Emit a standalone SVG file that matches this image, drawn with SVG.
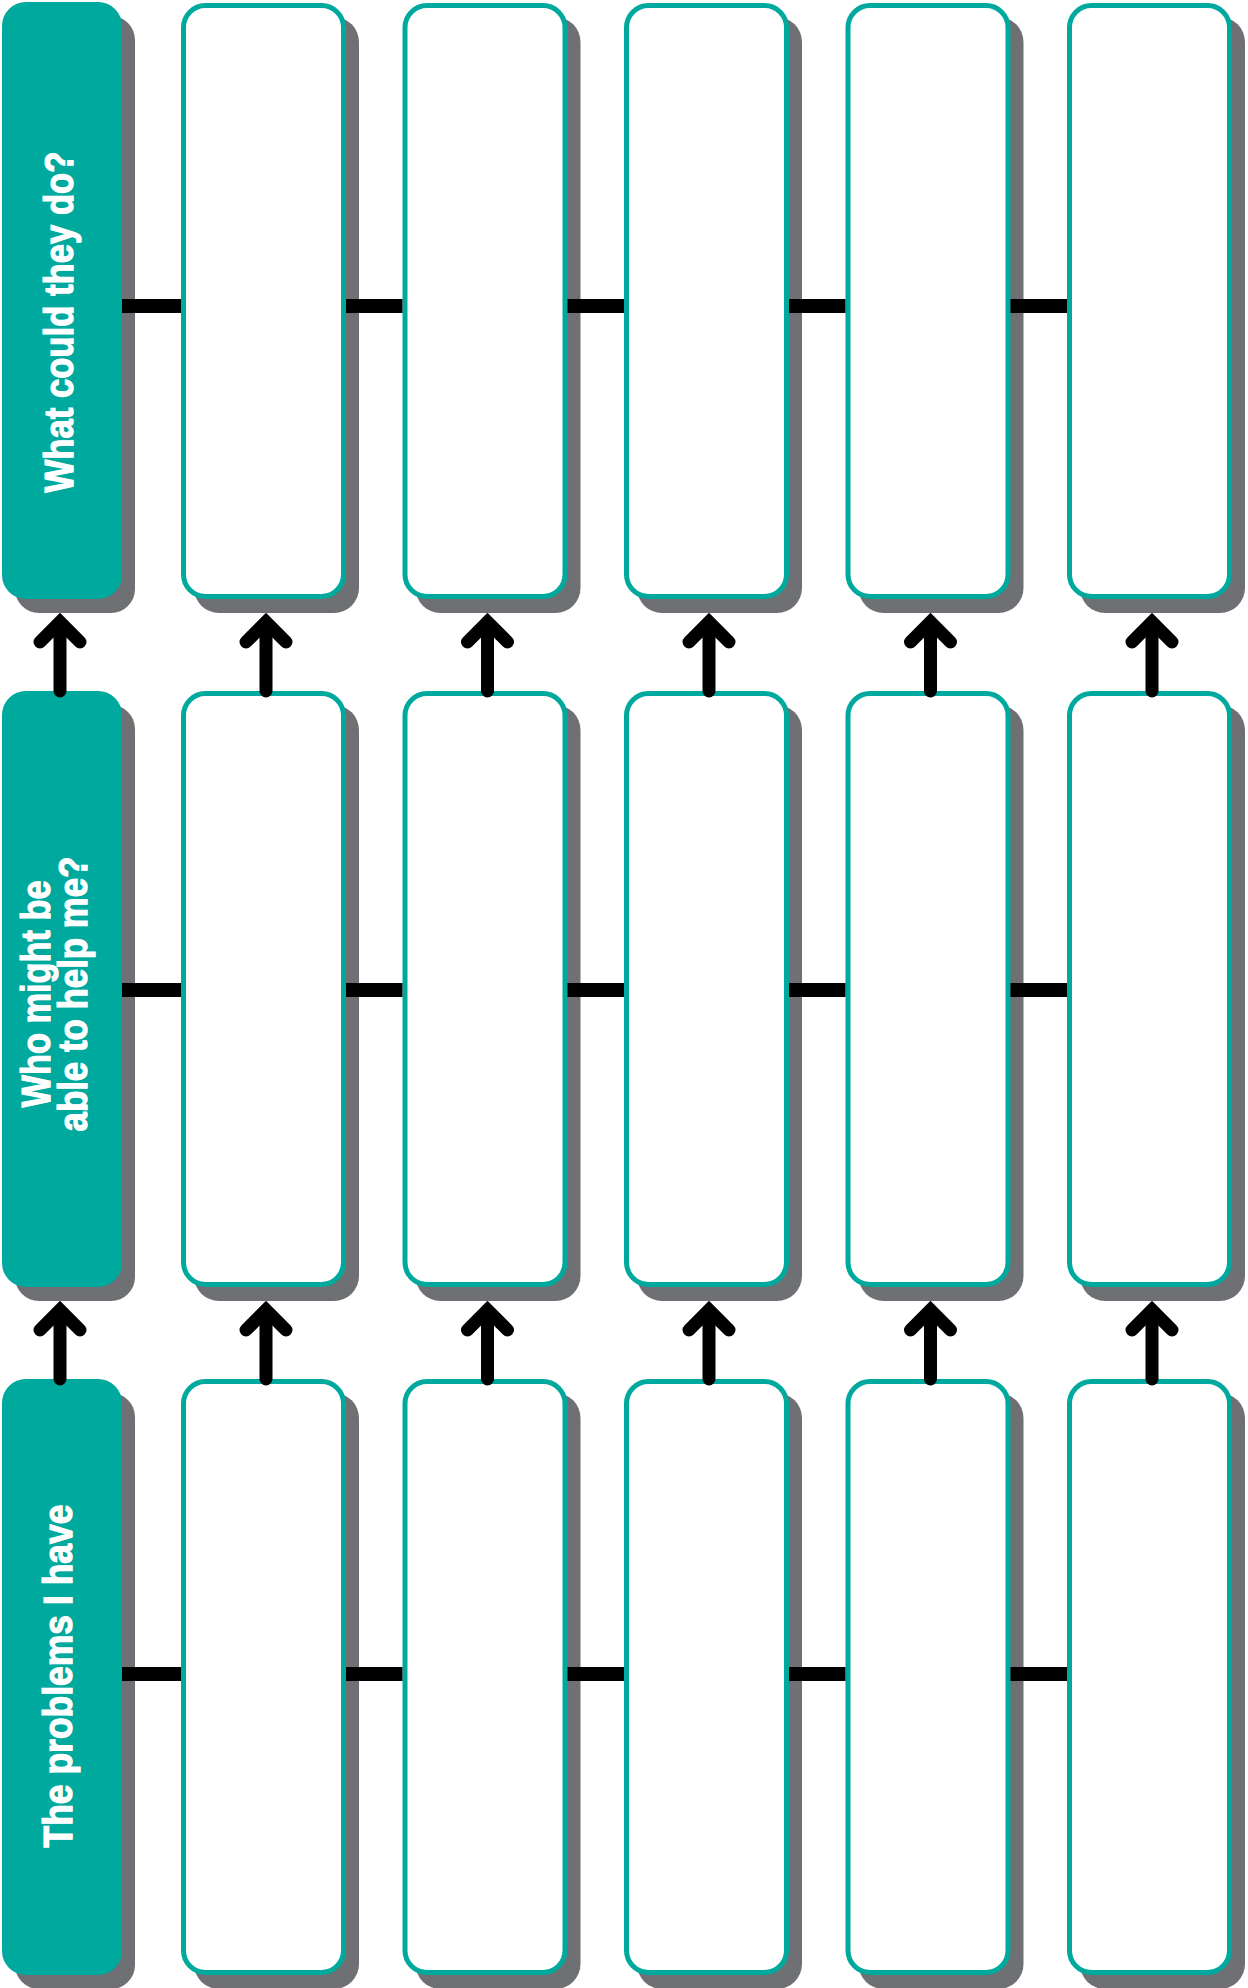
<svg xmlns="http://www.w3.org/2000/svg" width="1248" height="1988" viewBox="0 0 1248 1988">
<style>
.sh{fill:#6f7073}
.lab{fill:#00a99d}
.box{fill:#ffffff;stroke:#00a99d;stroke-width:5}
.t{fill:#ffffff;stroke:#ffffff;stroke-width:1.2;font-family:"Liberation Sans",Arial,sans-serif;font-weight:bold;font-size:40px;text-anchor:middle}
.h{stroke:#000;stroke-width:14;fill:none}
.v{stroke:#000;stroke-width:13;fill:none;stroke-linecap:round;stroke-linejoin:miter}
</style>
<rect width="1248" height="1988" fill="#ffffff"/>
<!-- Row 1 -->
<g id="label-row1"><rect class="sh" x="15" y="16" width="120" height="597" rx="24"/><rect class="lab" x="2" y="2" width="120" height="597" rx="24"/>
<text class="t" transform="translate(73,322) rotate(-90)" textLength="341" lengthAdjust="spacingAndGlyphs">What could they do?</text></g>
<g id="r1c1"><rect class="sh" x="194" y="17" width="165" height="596" rx="25"/><rect class="box" x="183.5" y="5.5" width="160" height="591" rx="22"/></g>
<g id="r1c2"><rect class="sh" x="415.5" y="17" width="165" height="596" rx="25"/><rect class="box" x="405" y="5.5" width="160" height="591" rx="22"/></g>
<g id="r1c3"><rect class="sh" x="637" y="17" width="165" height="596" rx="25"/><rect class="box" x="626.5" y="5.5" width="160" height="591" rx="22"/></g>
<g id="r1c4"><rect class="sh" x="858.5" y="17" width="165" height="596" rx="25"/><rect class="box" x="848" y="5.5" width="160" height="591" rx="22"/></g>
<g id="r1c5"><rect class="sh" x="1080" y="17" width="165" height="596" rx="25"/><rect class="box" x="1069.5" y="5.5" width="160" height="591" rx="22"/></g>
<!-- Row 2 -->
<g id="label-row2"><rect class="sh" x="15" y="705" width="120" height="596" rx="24"/><rect class="lab" x="2" y="691" width="120" height="596" rx="24"/>
<text class="t" transform="translate(50,994) rotate(-90)" textLength="227" lengthAdjust="spacingAndGlyphs">Who might be</text>
<text class="t" transform="translate(87,994) rotate(-90)" textLength="275" lengthAdjust="spacingAndGlyphs">able to help me?</text></g>
<g id="r2c1"><rect class="sh" x="194" y="705" width="165" height="596" rx="25"/><rect class="box" x="183.5" y="693.5" width="160" height="591" rx="22"/></g>
<g id="r2c2"><rect class="sh" x="415.5" y="705" width="165" height="596" rx="25"/><rect class="box" x="405" y="693.5" width="160" height="591" rx="22"/></g>
<g id="r2c3"><rect class="sh" x="637" y="705" width="165" height="596" rx="25"/><rect class="box" x="626.5" y="693.5" width="160" height="591" rx="22"/></g>
<g id="r2c4"><rect class="sh" x="858.5" y="705" width="165" height="596" rx="25"/><rect class="box" x="848" y="693.5" width="160" height="591" rx="22"/></g>
<g id="r2c5"><rect class="sh" x="1080" y="705" width="165" height="596" rx="25"/><rect class="box" x="1069.5" y="693.5" width="160" height="591" rx="22"/></g>
<!-- Row 3 -->
<g id="label-row3"><rect class="sh" x="15" y="1393" width="120" height="596" rx="24"/><rect class="lab" x="2" y="1379" width="120" height="596" rx="24"/>
<text class="t" transform="translate(72,1676) rotate(-90)" textLength="343" lengthAdjust="spacingAndGlyphs">The problems I have</text></g>
<g id="r3c1"><rect class="sh" x="194" y="1393" width="165" height="596" rx="25"/><rect class="box" x="183.5" y="1381.5" width="160" height="591" rx="22"/></g>
<g id="r3c2"><rect class="sh" x="415.5" y="1393" width="165" height="596" rx="25"/><rect class="box" x="405" y="1381.5" width="160" height="591" rx="22"/></g>
<g id="r3c3"><rect class="sh" x="637" y="1393" width="165" height="596" rx="25"/><rect class="box" x="626.5" y="1381.5" width="160" height="591" rx="22"/></g>
<g id="r3c4"><rect class="sh" x="858.5" y="1393" width="165" height="596" rx="25"/><rect class="box" x="848" y="1381.5" width="160" height="591" rx="22"/></g>
<g id="r3c5"><rect class="sh" x="1080" y="1393" width="165" height="596" rx="25"/><rect class="box" x="1069.5" y="1381.5" width="160" height="591" rx="22"/></g>
<g id="connectors">
<path class="h" d="M122 306H181M346 306H402.5M567.5 306H624M789 306H845.5M1010.5 306H1067"/>
<path class="h" d="M122 990H181M346 990H402.5M567.5 990H624M789 990H845.5M1010.5 990H1067"/>
<path class="h" d="M122 1674H181M346 1674H402.5M567.5 1674H624M789 1674H845.5M1010.5 1674H1067"/>
<path class="v" stroke-linecap="butt" d="M60 691V625M266 691V625M487.5 691V625M709 691V625M930.5 691V625M1152 691V625"/>
<path class="v" d="M40 642L60 622L80 642M246 642L266 622L286 642M467.5 642L487.5 622L507.5 642M689 642L709 622L729 642M910.5 642L930.5 622L950.5 642M1132 642L1152 622L1172 642"/>
<path class="v" stroke-linecap="butt" d="M60 1379V1313M266 1379V1313M487.5 1379V1313M709 1379V1313M930.5 1379V1313M1152 1379V1313"/>
<path class="v" d="M40 1330L60 1310L80 1330M246 1330L266 1310L286 1330M467.5 1330L487.5 1310L507.5 1330M689 1330L709 1310L729 1330M910.5 1330L930.5 1310L950.5 1330M1132 1330L1152 1310L1172 1330"/>
</g>
</svg>
